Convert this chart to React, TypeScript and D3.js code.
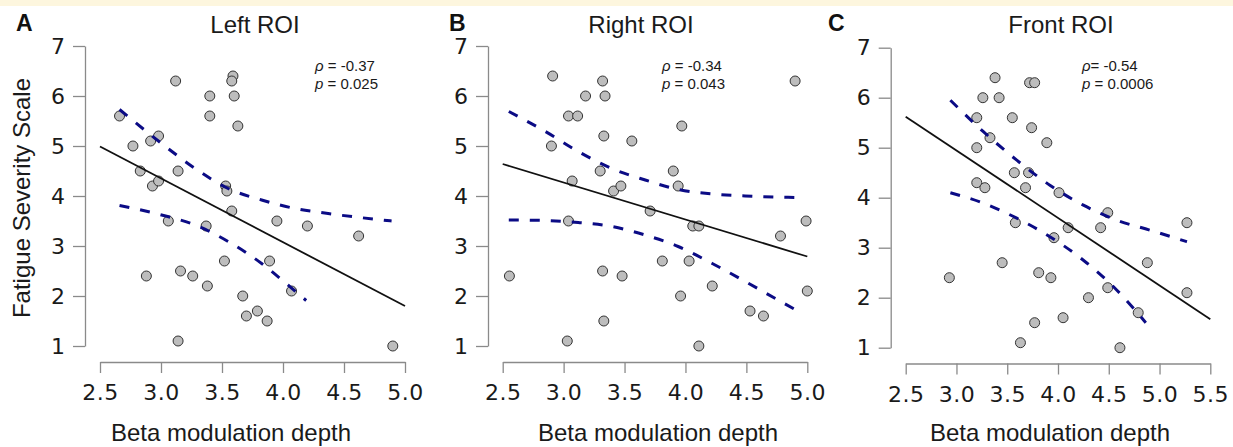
import React, { useRef, useEffect } from "react";
import * as d3 from "d3";

// fatigue scores vs beta modulation depth
const leftX = [2.66, 2.77, 2.83, 2.915, 2.98, 2.93, 2.98, 3.12, 3.14, 3.4, 3.4, 3.59, 3.58, 3.6, 3.63, 3.53, 3.54, 3.58, 3.06, 3.37, 3.95, 4.2, 4.62, 2.88, 3.16, 3.26, 3.38, 3.52, 3.67, 3.7, 3.79, 3.87, 3.89, 4.07, 3.14, 4.9];
const leftY = [5.6, 5.0, 4.5, 5.1, 5.2, 4.2, 4.3, 6.3, 4.5, 6.0, 5.6, 6.4, 6.3, 6.0, 5.4, 4.2, 4.1, 3.7, 3.5, 3.4, 3.5, 3.4, 3.2, 2.4, 2.5, 2.4, 2.2, 2.7, 2.0, 1.6, 1.7, 1.5, 2.7, 2.1, 1.1, 1.0];

const rightX = [2.91, 3.04, 3.115, 3.18, 3.32, 3.34, 2.9, 3.33, 3.56, 3.97, 4.9, 3.07, 3.3, 3.41, 3.47, 3.9, 3.94, 3.71, 3.04, 4.06, 4.11, 4.78, 4.99, 2.555, 3.32, 3.48, 3.81, 4.03, 4.22, 3.96, 5.0, 4.53, 4.64, 3.33, 3.03, 4.11];
const rightY = [6.4, 5.6, 5.6, 6.0, 6.3, 6.0, 5.0, 5.2, 5.1, 5.4, 6.3, 4.3, 4.5, 4.1, 4.2, 4.5, 4.2, 3.7, 3.5, 3.4, 3.4, 3.2, 3.5, 2.4, 2.5, 2.4, 2.7, 2.7, 2.2, 2.0, 2.1, 1.7, 1.6, 1.5, 1.1, 1.0];

const frontX = [3.38, 3.72, 3.77, 3.26, 3.42, 3.2, 3.55, 3.74, 3.33, 3.89, 3.2, 3.57, 3.71, 3.2, 3.28, 3.68, 4.01, 4.49, 3.58, 4.1, 4.42, 5.27, 3.96, 3.45, 4.88, 2.93, 3.81, 3.93, 4.49, 4.3, 5.27, 4.05, 3.77, 4.79, 3.63, 4.61];
const frontY = [6.4, 6.3, 6.3, 6.0, 6.0, 5.6, 5.6, 5.4, 5.2, 5.1, 5.0, 4.5, 4.5, 4.3, 4.2, 4.2, 4.1, 3.7, 3.5, 3.4, 3.4, 3.5, 3.2, 2.7, 2.7, 2.4, 2.5, 2.4, 2.2, 2.0, 2.1, 1.6, 1.5, 1.7, 1.1, 1.0];

// regression lines and confidence bands
const leftFit = [[2.5, 4.99], [5.0, 1.8]];
const leftUpper = [[2.66, 5.73], [3.005, 5.05], [3.28, 4.55], [3.55, 4.15], [3.825, 3.92], [4.1, 3.75], [4.37, 3.65], [4.89, 3.5]];
const leftLower = [[2.66, 3.81], [3.005, 3.62], [3.28, 3.42], [3.55, 3.09], [3.825, 2.65], [4.04, 2.22], [4.19, 1.91]];

const rightFit = [[2.5, 4.64], [5.0, 2.79]];
const rightUpper = [[2.55, 5.69], [2.85, 5.29], [3.12, 4.89], [3.395, 4.55], [3.67, 4.32], [3.94, 4.13], [4.22, 4.04], [4.49, 4.0], [4.94, 3.97]];
const rightLower = [[2.55, 3.52], [2.85, 3.51], [3.12, 3.47], [3.395, 3.39], [3.67, 3.22], [3.94, 2.99], [4.22, 2.65], [4.49, 2.29], [4.76, 1.92], [4.93, 1.69]];

const frontFit = [[2.5, 5.62], [5.5, 1.57]];
const frontUpper = [[2.94, 5.95], [3.265, 5.32], [3.594, 4.75], [3.92, 4.25], [4.25, 3.85], [4.58, 3.55], [4.907, 3.35], [5.27, 3.12]];
const frontLower = [[2.94, 4.1], [3.265, 3.89], [3.594, 3.59], [3.92, 3.22], [4.25, 2.75], [4.58, 2.15], [4.865, 1.5]];

const yTicks = [1, 2, 3, 4, 5, 6, 7];
const xTicksAB = [2.5, 3.0, 3.5, 4.0, 4.5, 5.0];
const xTicksC = [2.5, 3.0, 3.5, 4.0, 4.5, 5.0, 5.5];

const letters = ["A", "B", "C"];
const titles = ["Left ROI", "Right ROI", "Front ROI"];
const rhoText = ["= -0.37", "= -0.34", "= -0.54"];
const pText = ["= 0.025", "= 0.043", "= 0.0006"];

const sans = "'Liberation Sans', Arial, sans-serif";
const tickFont = "'DejaVu Sans', Verdana, sans-serif";

const App = () => {
  const svgRef = useRef(null);

  useEffect(() => {
    const svg = d3.select(svgRef.current).html("");

    // pale strip along the top edge
    svg.append("rect").attr("x", 0).attr("y", 0).attr("width", 1233).attr("height", 6).attr("fill", "#fdf6de");

    const panels = [
      { xs: leftX, ys: leftY, fit: leftFit, up: leftUpper, lo: leftLower, xTicks: xTicksAB,
        left: 100, right: 405, top: 46, bottom: 346, axX: 85, axY: 362,
        letterX: 16, titleX: 255, annX: 315, rhoGap: true, labX: 231 },
      { xs: rightX, ys: rightY, fit: rightFit, up: rightUpper, lo: rightLower, xTicks: xTicksAB,
        left: 502.7, right: 807.3, top: 46, bottom: 346, axX: 488, axY: 362,
        letterX: 449, titleX: 641, annX: 662, rhoGap: true, labX: 658 },
      { xs: frontX, ys: frontY, fit: frontFit, up: frontUpper, lo: frontLower, xTicks: xTicksC,
        left: 905.7, right: 1210.3, top: 47.7, bottom: 347.7, axX: 890.7, axY: 363.5,
        letterX: 828, titleX: 1061, annX: 1082, rhoGap: false, labX: 1050 },
    ];

    panels.forEach((p, i) => {
      const x = d3.scaleLinear().domain([p.xTicks[0], p.xTicks[p.xTicks.length - 1]]).range([p.left, p.right]);
      const y = d3.scaleLinear().domain([1, 7]).range([p.bottom, p.top]);
      const g = svg.append("g");

      // axes
      const ya = g.append("g").attr("transform", `translate(${p.axX},0)`)
        .call(d3.axisLeft(y).tickValues(yTicks).tickSize(12).tickSizeOuter(0).tickPadding(8).tickFormat(d3.format("d")));
      const xa = g.append("g").attr("transform", `translate(0,${p.axY})`)
        .call(d3.axisBottom(x).tickValues(p.xTicks).tickSize(11).tickSizeOuter(0).tickFormat(d3.format(".1f")));
      [ya, xa].forEach((a) => {
        a.selectAll("path, line").attr("stroke", "#8a8a8a").attr("stroke-width", 1.3);
        a.selectAll("text").attr("font-family", tickFont).attr("font-size", 22).attr("fill", "#1a1a1a");
      });
      xa.selectAll("text").attr("y", 38).attr("dy", null).attr("letter-spacing", 0.5);

      // points
      g.selectAll("circle").data(p.xs).join("circle")
        .attr("cx", (d) => x(d)).attr("cy", (d, j) => y(p.ys[j]))
        .attr("r", 5).attr("fill", "#bdbdbd").attr("stroke", "#333").attr("stroke-width", 1);

      // fit line
      const line = d3.line().x((d) => x(d[0])).y((d) => y(d[1]));
      g.append("path").attr("d", line(p.fit)).attr("fill", "none").attr("stroke", "#111").attr("stroke-width", 1.8);

      // confidence bands
      const band = d3.line().x((d) => x(d[0])).y((d) => y(d[1])).curve(d3.curveMonotoneX);
      [p.up, p.lo].forEach((b) => {
        g.append("path").attr("d", band(b)).attr("fill", "none").attr("stroke", "#0b0b85")
          .attr("stroke-width", 3).attr("stroke-dasharray", "10 11");
      });

      // letter and title
      g.append("text").attr("x", p.letterX).attr("y", 31).attr("font-family", sans)
        .attr("font-weight", "bold").attr("font-size", 23).attr("fill", "#111").text(letters[i]);
      g.append("text").attr("x", p.titleX).attr("y", 33).attr("text-anchor", "middle")
        .attr("font-family", sans).attr("font-size", 24).attr("fill", "#1a1a1a").text(titles[i]);

      // stats
      const t1 = g.append("text").attr("x", p.annX).attr("y", 71).attr("font-family", sans)
        .attr("font-size", 15).attr("fill", "#1a1a1a");
      t1.append("tspan").attr("font-style", "italic").text("ρ");
      t1.append("tspan").text((p.rhoGap ? " " : "") + rhoText[i]);
      const t2 = g.append("text").attr("x", p.annX).attr("y", 89).attr("font-family", sans)
        .attr("font-size", 15).attr("fill", "#1a1a1a");
      t2.append("tspan").attr("font-style", "italic").text("p");
      t2.append("tspan").text(" " + pText[i]);

      // x label
      g.append("text").attr("x", p.labX).attr("y", 441).attr("text-anchor", "middle")
        .attr("font-family", sans).attr("font-size", 24).attr("fill", "#1a1a1a").text("Beta modulation depth");
    });

    svg.append("text").attr("transform", "translate(30,198) rotate(-90)").attr("text-anchor", "middle")
      .attr("font-family", sans).attr("font-size", 24).attr("fill", "#1a1a1a").text("Fatigue Severity Scale");
  }, []);

  return (
    <svg ref={svgRef} width={1233} height={447}
      style={{ position: "absolute", left: 0, top: 0, background: "#fff" }} />
  );
};

export default App;
